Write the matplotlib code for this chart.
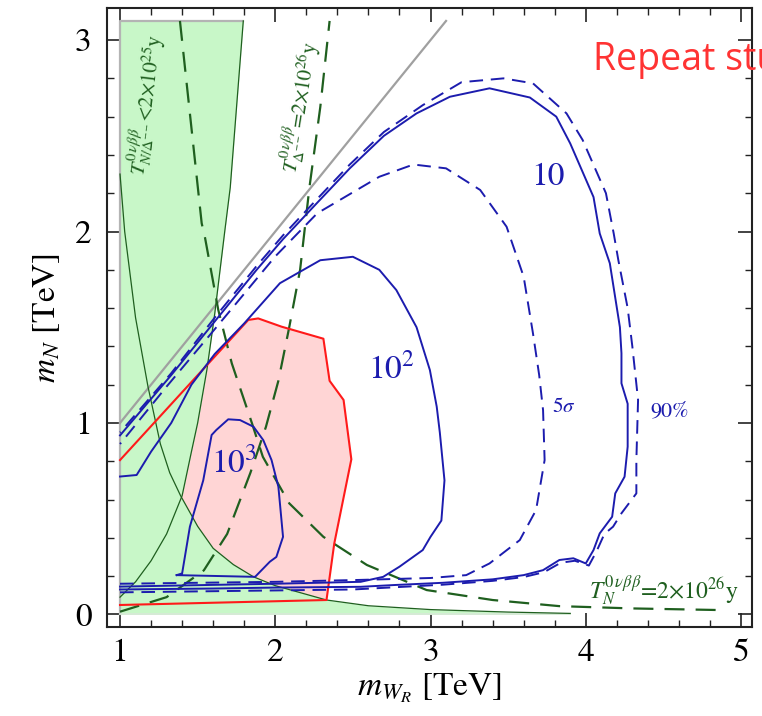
import matplotlib.pyplot as plt
from matplotlib.ticker import MultipleLocator
from matplotlib import font_manager

plt.rcParams['font.family'] = 'STIXGeneral'
plt.rcParams['mathtext.fontset'] = 'stix'

# thin boundaries of the 0vbb excluded (green) region
rise_x = [1.0, 1.1, 1.2, 1.3, 1.4, 1.46, 1.5, 1.56, 1.61, 1.676, 1.71, 1.794]
rise_y = [0.09, 0.17, 0.28, 0.42, 0.62, 0.85, 1.0, 1.28, 1.57, 2.01, 2.23, 3.10]
fall_x = [1.0, 1.03, 1.1, 1.18, 1.26, 1.32, 1.39, 1.5, 1.6, 1.73, 1.86, 2.0, 2.33, 2.6, 3.0, 3.5, 3.9]
fall_y = [2.30, 2.0, 1.55, 1.19, 0.89, 0.74, 0.62, 0.46, 0.345, 0.26, 0.196, 0.15, 0.075, 0.045, 0.025, 0.012, 0.005]

# dashed half-life curves
tn_x = [1.386, 1.526, 1.547, 1.633, 1.72, 1.85, 1.92, 2.09, 2.31, 2.59, 2.975, 3.40, 3.83, 4.30, 4.90]
tn_y = [3.10, 2.043, 1.97, 1.59, 1.311, 0.998, 0.823, 0.58, 0.405, 0.258, 0.127, 0.075, 0.043, 0.031, 0.022]
td_x = [1.0, 1.3, 1.54, 1.69, 1.84, 1.94, 2.02, 2.09, 2.16, 2.22, 2.29, 2.35]
td_y = [0.014, 0.09, 0.23, 0.42, 0.74, 0.98, 1.22, 1.50, 1.80, 2.23, 2.65, 3.10]

# red region
red_x = [1.0, 1.826, 1.89, 2.04, 2.31, 2.35, 2.44, 2.49, 2.38, 2.33, 1.0]
red_y = [0.806, 1.538, 1.546, 1.503, 1.44, 1.22, 1.12, 0.81, 0.37, 0.075, 0.049]

# event number contours
c10_x = [1.0, 1.6, 2.0, 2.55, 2.76, 3.08, 3.40, 3.60, 3.725, 3.83, 3.92, 4.00, 4.05, 4.09, 4.17, 4.19,
         4.25, 4.27, 4.27, 4.23, 4.23, 4.22, 4.155, 4.09, 4.05, 3.90, 3.81, 3.64, 3.38, 3.125, 2.91,
         2.70, 2.48, 2.27, 2.05, 1.88, 1.61, 1.33, 1.0]
c10_y = [0.13, 0.135, 0.14, 0.144, 0.153, 0.165, 0.183, 0.205, 0.231, 0.284, 0.293, 0.266, 0.336, 0.423, 0.51, 0.632,
         0.719, 0.876, 1.10, 1.207, 1.364, 1.50, 1.834, 1.99, 2.18, 2.46, 2.60, 2.70, 2.748, 2.704, 2.617,
         2.50, 2.33, 2.15, 1.96, 1.80, 1.53, 1.25, 0.935]
c90_x = [1.0, 2.5, 3.08, 3.40, 3.60, 3.73, 3.84, 3.93, 4.02, 4.07, 4.12, 4.176, 4.23, 4.326, 4.326, 4.337,
         4.30, 4.27, 4.21, 4.18, 4.13, 3.98, 3.876, 3.66, 3.47, 3.2, 2.95, 2.70, 2.48, 2.27, 2.05, 1.88,
         1.61, 1.33, 1.0]
c90_y = [0.115, 0.13, 0.155, 0.175, 0.195, 0.22, 0.27, 0.28, 0.255, 0.33, 0.42, 0.458, 0.528, 0.632, 0.806, 1.12,
         1.40, 1.60, 1.85, 1.99, 2.20, 2.478, 2.617, 2.774, 2.80, 2.78, 2.66, 2.52, 2.35, 2.17, 1.98, 1.82,
         1.55, 1.26, 0.95]
c5s_x = [1.0, 2.0, 2.545, 3.0, 3.23, 3.38, 3.575, 3.68, 3.735, 3.725, 3.70, 3.66, 3.60, 3.49, 3.32, 3.10,
         2.89, 2.67, 2.27, 2.0, 1.6, 1.3, 1.0]
c5s_y = [0.16, 0.17, 0.18, 0.19, 0.205, 0.266, 0.388, 0.545, 0.806, 1.067, 1.25, 1.468, 1.764, 2.025, 2.217, 2.33,
         2.35, 2.286, 2.095, 1.87, 1.48, 1.19, 0.89]
c100_x = [1.0, 2.0, 2.55, 2.695, 2.80, 2.95, 3.00, 3.07, 3.09, 3.06, 3.04, 2.996, 2.91, 2.78, 2.67, 2.50,
          2.29, 2.03, 1.80, 1.61, 1.46, 1.33, 1.20, 1.107, 1.0]
c100_y = [0.145, 0.16, 0.17, 0.196, 0.249, 0.336, 0.405, 0.49, 0.70, 0.95, 1.085, 1.276, 1.50, 1.694, 1.80, 1.868,
          1.85, 1.73, 1.52, 1.36, 1.20, 1.00, 0.85, 0.728, 0.72]
c1000_x = [1.365, 1.40, 1.45, 1.536, 1.59, 1.62, 1.697, 1.773, 1.86, 1.923, 1.976, 2.02, 2.05, 2.007, 1.965,
           1.87, 1.365]
c1000_y = [0.205, 0.214, 0.458, 0.70, 0.937, 0.963, 1.019, 1.015, 0.98, 0.91, 0.806, 0.667, 0.405, 0.30, 0.275,
           0.196, 0.205]

blue = '#1c1cae'
dkgreen = '#1f5f1f'
ltgreen = '#c8f7c8'

fig = plt.figure(figsize=(7.62, 7.16), dpi=100)
ax = fig.add_axes([0.1404, 0.1243, 0.8465, 0.8641])

ax.fill(red_x, red_y, color='#ffd5d5', lw=0, zorder=1)
ax.fill_betweenx(rise_y, 1.0, rise_x, color=ltgreen, lw=0, zorder=2)
ax.fill_betweenx([rise_y[-1], 3.1], 1.0, rise_x[-1], color=ltgreen, lw=0, zorder=2)
ax.fill_between(fall_x, 0, fall_y, color=ltgreen, lw=0, zorder=2)
ax.plot([1.0, 1.0, rise_x[-1]], [0.0, 3.1, 3.1], color='#b4b4b4', lw=1.6, zorder=3)
ax.plot([1.0, 3.9], [0.0, 0.0], color='#d8e8d8', lw=1.2, zorder=3)

ax.plot([1.0, 3.1], [1.0, 3.1], color='#a0a0a0', lw=1.6, zorder=3)

ax.plot(rise_x, rise_y, color=dkgreen, lw=0.9, zorder=4)
ax.plot(fall_x, fall_y, color=dkgreen, lw=0.9, zorder=4)
ax.plot(tn_x, tn_y, color=dkgreen, lw=1.6, ls=(0, (9, 5)), zorder=4)
ax.plot(td_x, td_y, color=dkgreen, lw=1.6, ls=(0, (9, 5)), zorder=4)

ax.plot(red_x, red_y, color='#ff1a1a', lw=1.5, zorder=5)

ax.plot(c90_x, c90_y, color=blue, lw=1.4, ls=(0, (7, 4)), zorder=6)
ax.plot(c10_x, c10_y, color=blue, lw=1.4, zorder=6)
ax.plot(c5s_x, c5s_y, color=blue, lw=1.4, ls=(0, (7, 4)), zorder=6)
ax.plot(c100_x, c100_y, color=blue, lw=1.4, zorder=6)
ax.plot(c1000_x, c1000_y, color=blue, lw=1.4, zorder=6)

ax.text(3.756, 2.243, '10', color=blue, fontsize=24, ha='center', va='baseline', zorder=7)
ax.text(2.75, 1.235, r'$\mathregular{10^2}$', color=blue, fontsize=24, ha='center', va='baseline', zorder=7)
ax.text(1.734, 0.74, r'$\mathregular{10^3}$', color=blue, fontsize=24, ha='center', va='baseline', zorder=7)
ax.text(3.86, 1.085, r'5$\sigma$', color=blue, fontsize=15, ha='center', va='center', zorder=7)
ax.text(4.54, 1.058, '90%', color=blue, fontsize=16, ha='center', va='center', zorder=7)

ax.text(1.17, 2.66, r'$T^{0\,\nu\beta\beta}_{N/\Delta^{--}}$<2$\times$10$^{25}$y', color=dkgreen,
        fontsize=15, rotation=83, ha='center', va='center', rotation_mode='anchor', zorder=7)
ax.text(2.16, 2.65, r'$T^{0\,\nu\beta\beta}_{\Delta^{--}}$=2$\times$10$^{26}$y', color=dkgreen,
        fontsize=15, rotation=81, ha='center', va='center', rotation_mode='anchor', zorder=7)
ax.text(4.50, 0.127, r'$T^{0\,\nu\beta\beta}_{N}$=2$\times$10$^{26}$y', color=dkgreen,
        fontsize=17, ha='center', va='center', zorder=7)

ax.set_xlim(0.916, 5.071)
ax.set_ylim(-0.066, 3.166)
ax.set_xticks([1, 2, 3, 4, 5])
ax.set_yticks([0, 1, 2, 3])
ax.xaxis.set_minor_locator(MultipleLocator(0.2))
ax.yaxis.set_minor_locator(MultipleLocator(0.2))
ax.tick_params(which='both', direction='in', top=True, right=True, labelsize=24, color='#222222')
ax.tick_params(which='major', length=10, width=1.2)
ax.tick_params(which='minor', length=5, width=1.0)
ax.tick_params(axis='x', pad=8)
ax.tick_params(axis='y', pad=11)
for s in ax.spines.values():
    s.set_linewidth(1.5)
    s.set_color('#222222')

ax.set_xlabel(r'$m_{W_R}$ [TeV]', fontsize=24, labelpad=3)
ax.set_ylabel(r'$m_N$ [TeV]', fontsize=24, labelpad=9)

names = {f.name for f in font_manager.fontManager.ttflist}
if 'Liberation Sans Narrow' in names:
    fig.text(0.778, 0.902, 'Repeat study', color='#ff3333', fontsize=33,
             family='Liberation Sans Narrow', va='baseline')
else:
    fig.text(0.778, 0.902, 'Repeat study', color='#ff3333', fontsize=27,
             family='Open Sans', va='baseline')

fig.savefig('out.png', dpi=100)
